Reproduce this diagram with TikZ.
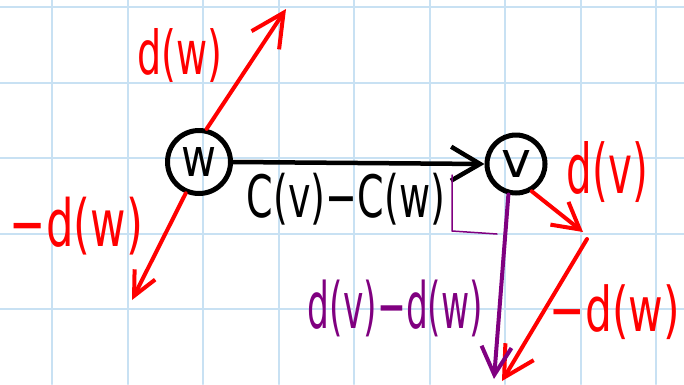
\documentclass[tikz,border=0pt]{standalone}
\usepackage{fontspec}
\setmainfont{DejaVu Sans}
\usetikzlibrary{arrows.meta}
\definecolor{gridblue}{RGB}{200,225,243}
\definecolor{purp}{RGB}{128,0,128}
\begin{document}
\begin{tikzpicture}[x=1pt,y=-1pt, line cap=round, line join=round,
  vert/.style={circle, draw=black, line width=5pt, inner sep=0pt},
  lab/.style={inner sep=0pt},
  ink/.style={line width=4pt},
  gridline/.style={gridblue, line width=2pt}]
\fill[white] (0,0) rectangle (684,384);
\useasboundingbox (0,0) rectangle (684,384);
\foreach \x in {52,127.5,...,660} \draw[gridline] (\x,0) -- (\x,384);
\foreach \y in {7,82.5,...,384} \draw[gridline] (0,\y) -- (684,\y);

\node[vert, minimum size=63pt] (w) at (199,162) {\resizebox{35pt}{29pt}{w}};
\node[vert, minimum size=58pt] (v) at (516,164) {\resizebox{30pt}{27pt}{v}};

\coordinate (tw1) at (286,9);
\coordinate (tw2) at (132,300);
\coordinate (tv) at (583,232);
\coordinate (s2) at (587,239);
\coordinate (t2) at (502,381);
\coordinate (tp) at (494,379);
\coordinate (ra1) at (452,175);
\coordinate (ra2) at (452,231);
\coordinate (ra3) at (497,234);

\draw[red, ink, -{Straight Barb[length=33pt,width=33pt]}] (w.77) -- (tw1);
\draw[red, ink, -{Straight Barb[length=24pt,width=23pt]}] (w.247) -- (tw2);
\draw[black, line width=4.5pt, -{Straight Barb[length=29pt,width=34pt]}] (w.east) -- (v.west);
\draw[red, ink, -{Straight Barb[length=26pt,width=29pt]}] (v.300) -- (tv);
\draw[red, ink, -{Straight Barb[length=30pt,width=33pt]}] (s2) -- (t2);
\draw[purp, line width=4pt, -{Straight Barb[length=28pt,width=30pt]}] (v.256) -- (tp);
\draw[purp, line width=1.5pt] (ra1) -- (ra2) -- (ra3);

\node[lab, text=red] (ldw) at (179.5,55) {\resizebox*{85pt}{54pt}{d(w)}};
\node[lab, text=red] (lmdw) at (76.5,226) {\resizebox*{133pt}{58pt}{−d(w)}};
\node[lab, text=black] (lc) at (346,199) {\resizebox*{198pt}{52pt}{C(v)−C(w)}};
\node[lab, text=red] (ldv) at (607.5,172.5) {\resizebox*{81pt}{61pt}{d(v)}};
\node[lab, text=purp] (ldiff) at (395.5,308.5) {\resizebox*{175pt}{57pt}{d(v)−d(w)}};
\node[lab, text=red] (lmdw2) at (615,312.5) {\resizebox*{130pt}{55pt}{−d(w)}};
\end{tikzpicture}
\end{document}
